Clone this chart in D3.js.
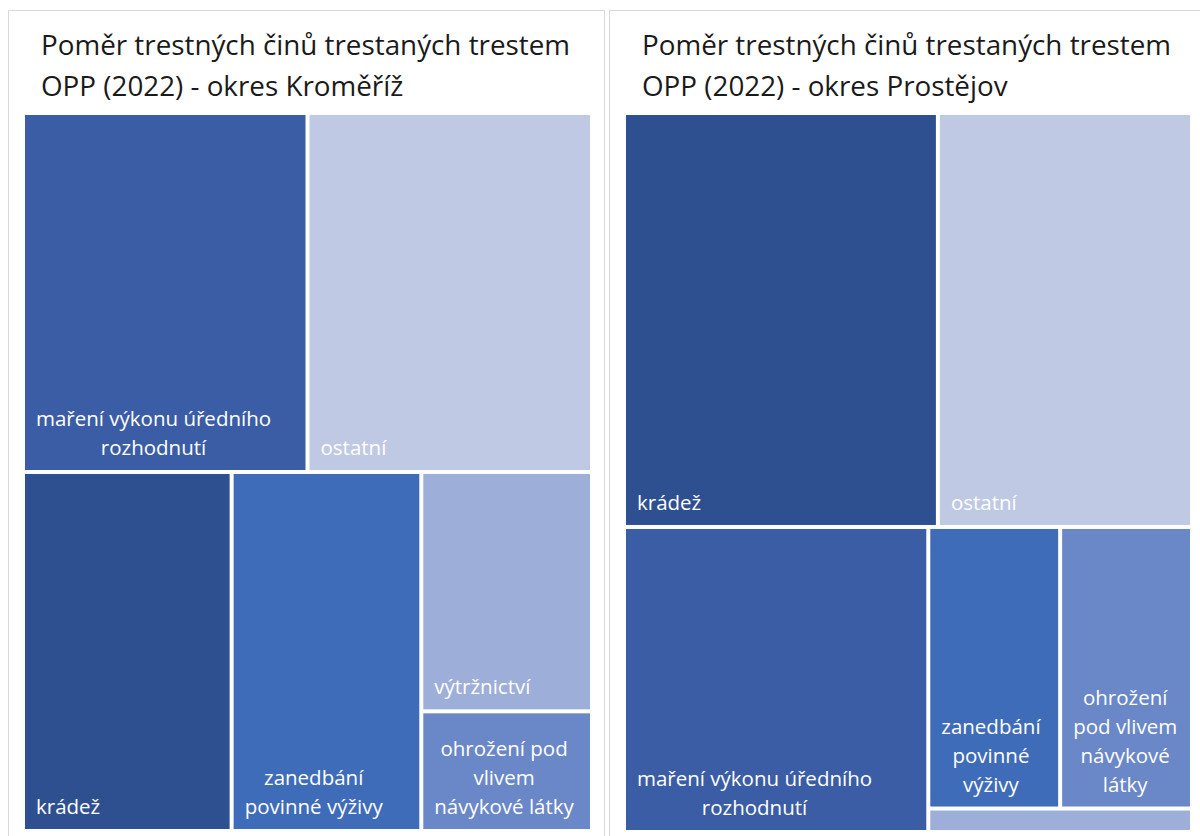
<!DOCTYPE html>
<html>
<head>
<meta charset="utf-8">
<script src="https://cdn.jsdelivr.net/npm/d3@7"></script>
<style>
  body { margin: 0; background: #fff; }
  text { font-family: "Open Sans", "Noto Sans", sans-serif; }
</style>
</head>
<body>
<script>
// kategorie trestnych cinu (poradi = poradi v tabulce)
var categories = ["maření výkonu úředního rozhodnutí", "ostatní", "krádež", "zanedbání povinné výživy", "výtržnictví", "ohrožení pod vlivem návykové látky"]
var colors = ["#3A5DA5", "#BFC9E4", "#2F5090", "#3F6CB9", "#9DAED8", "#6A87C8"]

// pocty odsouzenych (odhad z grafu)
var kromerizValues = [15, 15, 11, 10, 6, 3]
var prostejovValues = [15, 17, 21, 6, 1, 6]

var titles = [
  ["Poměr trestných činů trestaných trestem", "OPP (2022) - okres Kroměříž"],
  ["Poměr trestných činů trestaných trestem", "OPP (2022) - okres Prostějov"]
]

var color = d3.scaleOrdinal(categories, colors)

var svg = d3.select("body").append("svg")
  .attr("width", 1200)
  .attr("height", 836)

var panels = [
  {x: 8.5, w: 596, tx: 25, tw: 565, th: 714, values: kromerizValues, title: titles[0]},
  {x: 609.5, w: 600, tx: 626, tw: 564, th: 715, values: prostejovValues, title: titles[1]}
]

var labelSize = 20.5
var lineH = 29

// merici text pro zalamovani
var measure = svg.append("text").attr("font-size", labelSize).attr("visibility", "hidden")
function textWidth(s) {
  measure.text(s)
  return measure.node().getComputedTextLength()
}

function wrap(label, maxW) {
  var words = label.split(" ")
  var lines = []
  var line = words[0]
  for (var i = 1; i < words.length; i++) {
    if (textWidth(line + " " + words[i]) <= maxW) {
      line = line + " " + words[i]
    } else {
      lines.push(line)
      line = words[i]
    }
  }
  lines.push(line)
  return lines
}

panels.forEach(function(p) {

  svg.append("rect")
    .attr("x", p.x)
    .attr("y", 10.5)
    .attr("width", p.w)
    .attr("height", 900)
    .attr("fill", "#fff")
    .attr("stroke", "#d9d9d9")

  svg.append("g").selectAll("text")
    .data(p.title)
    .enter()
    .append("text")
    .attr("x", p.tx + 16)
    .attr("y", function(d, i) { return 55 + i * 41 })
    .attr("font-size", 27.8)
    .attr("fill", "#1a1a1a")
    .text(function(d) { return d })

  var data = categories.map(function(c, i) { return {name: c, value: p.values[i]} })

  var root = d3.hierarchy({children: data})
    .sum(function(d) { return d.value })
    .sort(function(a, b) { return b.value - a.value })

  d3.treemap()
    .tile(d3.treemapSquarify.ratio(1.08))
    .size([p.tw, p.th])
    .paddingInner(4)(root)

  var g = svg.append("g")
    .attr("transform", "translate(" + p.tx + ",115)")

  var cell = g.selectAll("g.cell")
    .data(root.leaves())
    .enter()
    .append("g")
    .attr("class", "cell")

  cell.append("rect")
    .attr("x", function(d) { return d.x0 })
    .attr("y", function(d) { return d.y0 })
    .attr("width", function(d) { return d.x1 - d.x0 })
    .attr("height", function(d) { return d.y1 - d.y0 })
    .attr("fill", function(d) { return color(d.data.name) })

  cell.each(function(d) {
    var w = d.x1 - d.x0
    var h = d.y1 - d.y0
    var lines = wrap(d.data.name, w - 18)
    if (lines.length * lineH + 10 > h) return
    var blockW = d3.max(lines, textWidth)
    var cx = d.x0 + 11 + blockW / 2
    var anchor = lines.length > 1 ? "middle" : "start"
    d3.select(this).selectAll("text")
      .data(lines)
      .enter()
      .append("text")
      .attr("x", lines.length > 1 ? cx : d.x0 + 11)
      .attr("y", function(l, i) { return d.y1 - 15 - (lines.length - 1 - i) * lineH })
      .attr("text-anchor", anchor)
      .attr("font-size", labelSize)
      .attr("fill", "#fff")
      .text(function(l) { return l })
  })
})

measure.remove()
</script>
</body>
</html>
